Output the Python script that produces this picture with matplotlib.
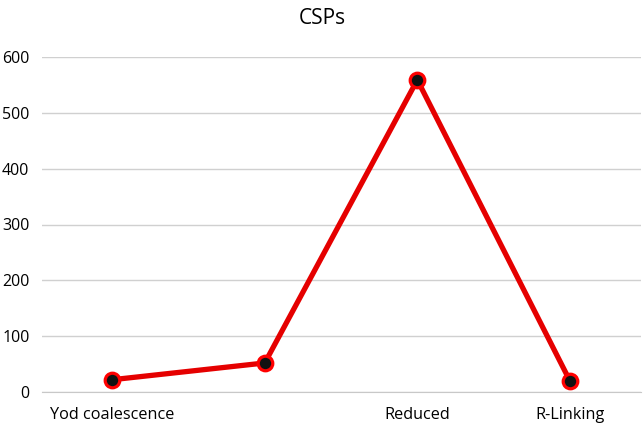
import matplotlib
matplotlib.use("Agg")
import matplotlib.pyplot as plt

categories = ["Yod coalescence", "", "Reduced", "R-Linking"]
values = [22, 52, 559, 20]
yticks = [0, 100, 200, 300, 400, 500, 600]

plt.rcParams['font.family'] = ['Open Sans', 'DejaVu Sans']

fig = plt.figure(figsize=(6.44, 4.25), dpi=100)
ax = fig.add_axes([42/644, 1 - 392/425, 599/644, 335/425])
x = list(range(len(categories)))
ax.plot(x, values, color='#e50000', lw=3.8, marker='o', markersize=10.5,
        markerfacecolor='#111111', markeredgecolor='#ff0000', markeredgewidth=2.3,
        solid_capstyle='round', zorder=3)
ax.set_xlim(-0.46, 3.466)
ax.set_ylim(0, 600)
ax.set_yticks(yticks)
ax.set_xticks(x)
ax.set_xticklabels(categories)
ax.grid(axis='y', color='#d0d0d0', lw=1)
ax.set_axisbelow(True)
for s in ['top', 'right', 'left']:
    ax.spines[s].set_visible(False)
ax.spines['bottom'].set_color('#c8c8c8')
ax.tick_params(length=0, colors='#000000')
ax.tick_params(axis='y', pad=9, labelsize=11.5)
ax.tick_params(axis='x', pad=11, labelsize=11.7)
fig.text(0.5, 1 - 19/425, "CSPs", ha='center', va='center', fontsize=15)
fig.savefig("out.png", dpi=100)
